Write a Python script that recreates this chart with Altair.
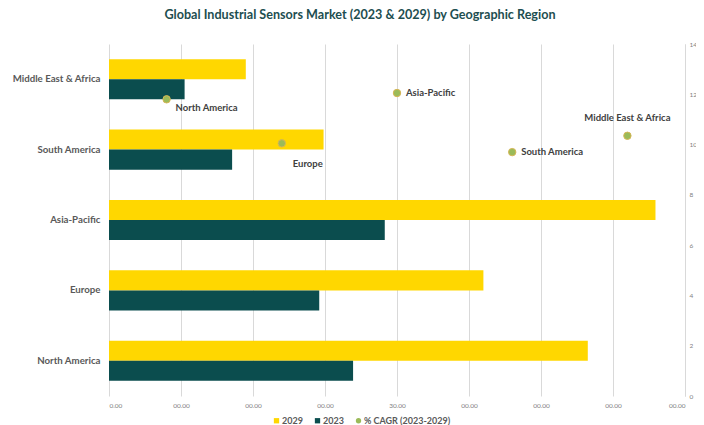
import altair as alt
import pandas as pd

regions = ["Middle East & Africa", "South America", "Asia-Pacific", "Europe", "North America"]
v2029 = [19.0, 29.8, 75.9, 52.0, 66.5]
v2023 = [10.5, 17.1, 38.3, 29.2, 33.9]

cagr_regions = ["North America", "Europe", "Asia-Pacific", "South America", "Middle East & Africa"]
cagr_pos = [1, 2, 3, 4, 5]
cagr_vals = [11.8, 10.05, 12.05, 9.7, 10.35]

x_ticks = [0, 10, 20, 30, 40, 50, 60, 70, 80]
x_tick_labels = ["0.00", "00.00", "00.00", "00.00", "30.00", "00.00", "00.00", "00.00", "00.00"]
y2_ticks = [0, 2, 4, 6, 8, 10, 12, 14]

series = ["2029", "2023", "% CAGR (2023-2029)"]
colors = ["#FFD700", "#0B4D4E", "#9BBB59"]
shapes = ["square", "square", "circle"]

FONT = "Lato"
GREY = "#595959"

bars_df = pd.DataFrame({
    "region": regions * 2,
    "year": ["2029"] * len(regions) + ["2023"] * len(regions),
    "value": v2029 + v2023,
})
cagr_df = pd.DataFrame({
    "region": cagr_regions,
    "pos": cagr_pos,
    "cagr": cagr_vals,
    "series": ["% CAGR (2023-2029)"] * len(cagr_regions),
})

label_expr = "[" + ",".join(f"'{l}'" for l in x_tick_labels) + "][indexof([" + ",".join(str(t) for t in x_ticks) + "], datum.value)]"

color_scale = alt.Scale(domain=series, range=colors)

bars = alt.Chart(bars_df).mark_bar().encode(
    y=alt.Y("region:N", sort=regions, title=None,
            scale=alt.Scale(paddingInner=0.43, paddingOuter=0.215),
            axis=alt.Axis(labelFont=FONT, labelFontWeight="bold", labelFontSize=9.7,
                          labelColor=GREY, ticks=False, domain=False, labelPadding=9)),
    yOffset=alt.YOffset("year:N", sort=["2029", "2023"], scale=alt.Scale(paddingInner=0, paddingOuter=0)),
    x=alt.X("value:Q", title=None, scale=alt.Scale(domain=[0, 80], nice=False),
            axis=alt.Axis(values=x_ticks, labelExpr=label_expr, grid=True, gridColor="#D9D9D9",
                          domain=False, ticks=False, labelFont=FONT, labelFontSize=6.5,
                          labelColor="#7F7F7F", labelPadding=6)),
    color=alt.Color("year:N", scale=color_scale, legend=None),
)

pts_base = alt.Chart(cagr_df).encode(
    x=alt.X("pos:Q", scale=alt.Scale(domain=[0.5, 5.5], nice=False), axis=None),
    y=alt.Y("cagr:Q", title=None, scale=alt.Scale(domain=[0, 14], nice=False),
            axis=alt.Axis(orient="right", values=y2_ticks, grid=False, ticks=False,
                          domain=True, domainColor="#D9D9D9", labelFont=FONT,
                          labelFontSize=6.5, labelColor="#7F7F7F", labelPadding=4)),
)

leg = dict(orient="none", direction="horizontal", legendX=163, legendY=372,
           labelFont=FONT, labelFontWeight="bold", labelFontSize=9,
           labelColor=GREY, symbolSize=28, columnPadding=10,
           labelOffset=1, symbolStrokeWidth=0)

points = pts_base.mark_point(filled=True, size=55, stroke="#D6B656", strokeWidth=1, opacity=1).encode(
    color=alt.Color("series:N", scale=color_scale, title=None, legend=alt.Legend(**leg)),
    shape=alt.Shape("series:N", scale=alt.Scale(domain=series, range=shapes), title=None,
                    legend=alt.Legend(**leg)),
)


def lbl(region, dx, dy, align):
    return pts_base.transform_filter(alt.datum.region == region).mark_text(
        dx=dx, dy=dy, align=align, baseline="middle", font=FONT, fontWeight="bold",
        fontSize=9.5, color="#404040"
    ).encode(text="region:N")


labels = [
    lbl("North America", 9, 9, "left"),
    lbl("Europe", 11, 21, "left"),
    lbl("Asia-Pacific", 9, 0, "left"),
    lbl("South America", 9, 0, "left"),
    lbl("Middle East & Africa", 0, -18, "center"),
]

overlay = alt.layer(points, *labels)

chart = alt.layer(bars, overlay).resolve_scale(
    x="independent", y="independent"
).resolve_legend(
    color="independent", shape="independent"
).properties(
    width=576, height=352,
    autosize=alt.AutoSizeParams(type="none"),
    padding={"left": 101, "top": 36, "right": 11, "bottom": 29},
    title=alt.TitleParams(
        "Global Industrial Sensors Market (2023 & 2029) by Geographic Region",
        font=FONT, fontSize=12.6, fontWeight="bold", color="#1D4E50",
        anchor="middle", dx=-37, offset=19,
    ),
).configure_view(stroke=None)

chart.save("out.html", embed_options={"renderer": "svg", "actions": False})
